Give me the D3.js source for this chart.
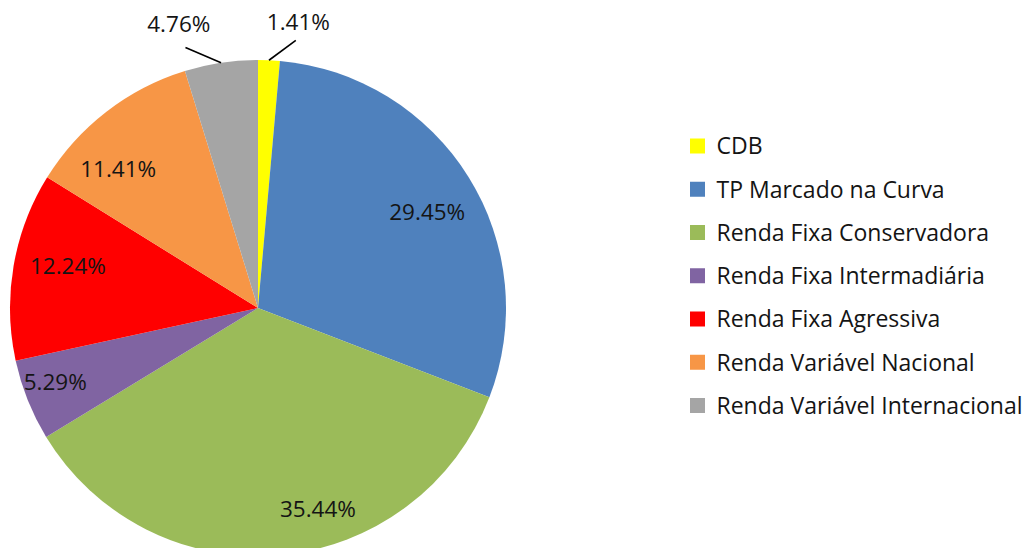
<!DOCTYPE html>
<html lang="pt">
<head>
<meta charset="UTF-8">
<title>Alocação</title>
<style>
  body { margin: 0; background: #fff; }
  svg text { font-family: "Open Sans", "Noto Sans", sans-serif; fill: #141414; }
</style>
</head>
<body>
<svg id="chart" width="1028" height="548"></svg>
<script src="https://cdn.jsdelivr.net/npm/d3@7"></script>
<script>
  // data
  const categories = ["CDB", "TP Marcado na Curva", "Renda Fixa Conservadora",
    "Renda Fixa Intermadiária", "Renda Fixa Agressiva",
    "Renda Variável Nacional", "Renda Variável Internacional"];
  const shares = [1.41, 29.45, 35.44, 5.29, 12.24, 11.41, 4.76];
  const colors = ["#ffff00", "#4f81bd", "#9bbb59", "#8064a2", "#ff0000", "#f79646", "#a5a5a5"];

  // label placement tweaks (degrees off the slice middle, fraction of radius), like Excel's best fit
  const labelNudge = [[5.5, 1.165], [2.3, 0.785], [-11.5, 0.845], [1.8, 0.87], [2.7, 0.785], [-7.5, 0.795], [-7, 1.19]];

  const svg = d3.select("#chart");
  const cx = 258, cy = 308, r = 248;

  const pie = d3.pie().sort(null).value(d => d.v);
  const arcs = pie(shares.map((v, i) => ({ v, name: categories[i], color: colors[i], nudge: labelNudge[i] })));
  const arc = d3.arc().innerRadius(0).outerRadius(r);

  const g = svg.append("g").attr("transform", `translate(${cx},${cy})`);
  g.selectAll("path").data(arcs).join("path")
    .attr("d", arc)
    .attr("fill", d => d.data.color);

  const mid = d => (d.startAngle + d.endAngle) / 2;
  const pt = (a, rr) => [Math.sin(a) * rr, -Math.cos(a) * rr];
  const rad = Math.PI / 180;

  arcs.forEach(d => {
    const a = mid(d);
    const la = a + d.data.nudge[0] * rad;
    const lr = d.data.nudge[1] * r;
    if (d.data.nudge[1] > 1) {
      // outside label with leader line
      const [x1, y1] = pt(a, r);
      const [x2, y2] = pt(la, r * 1.09);
      g.append("line").attr("x1", x1).attr("y1", y1).attr("x2", x2).attr("y2", y2)
        .attr("stroke", "#000").attr("stroke-width", 1.6);
    }
    const [tx, ty] = pt(la, lr);
    g.append("text").attr("x", tx).attr("y", ty).attr("dy", "0.36em")
      .attr("text-anchor", "middle").attr("font-size", 22.5)
      .text(d3.format(".2f")(d.data.v) + "%");
  });

  // legend
  const ly = d3.scalePoint().domain(categories).range([146, 405.5]);
  const leg = svg.append("g");
  leg.selectAll("rect").data(arcs).join("rect")
    .attr("x", 690).attr("y", d => ly(d.data.name) - 7.5)
    .attr("width", 15).attr("height", 15)
    .attr("fill", d => d.data.color);
  const lt = leg.selectAll("text").data(arcs).join("text")
    .attr("x", 716.5).attr("y", d => ly(d.data.name)).attr("dy", "0.36em")
    .attr("font-size", 20)
    .text(d => d.data.name);
  // size legend font so the longest entry spans like the reference
  const longest = d3.max(lt.nodes(), n => n.getComputedTextLength());
  lt.attr("font-size", 20 * 306 / longest);
</script>
</body>
</html>
